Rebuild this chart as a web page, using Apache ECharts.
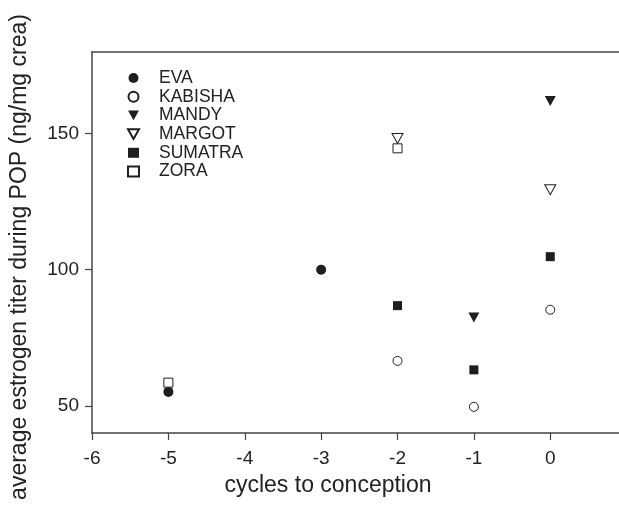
<!DOCTYPE html>
<html><head><meta charset="utf-8">
<script src="https://cdn.jsdelivr.net/npm/echarts@6/dist/echarts.min.js"></script>
<style>html,body{margin:0;padding:0;background:#fff}#c{width:619px;height:512px}</style>
</head><body><div id="c"></div>
<script>
const names = ['EVA','KABISHA','MANDY','MARGOT','SUMATRA','ZORA'];
const EVA = [[-5,55.1],[-3,100]];
const KABISHA = [[-2,66.5],[-1,49.6],[0,85.3]];
const MANDY = [[-1,82.4],[0,162]];
const MARGOT = [[-2,148.2],[0,129.4]];
const SUMATRA = [[-2,86.8],[-1,63.2],[0,104.8]];
const ZORA = [[-5,58.5],[-2,144.6]];
const xTicks = [-6,-5,-4,-3,-2,-1,0];
const yTicks = [50,100,150];

const tri = 'path://M0,0L10,0L5,9Z';
const dark = '#1e1e1e';
const defs = [
  {name:'EVA', data:EVA, symbol:'circle', size:10, fill:dark},
  {name:'KABISHA', data:KABISHA, symbol:'circle', size:9, fill:'#fff'},
  {name:'MANDY', data:MANDY, symbol:tri, size:[11,10], fill:dark},
  {name:'MARGOT', data:MARGOT, symbol:tri, size:[11,10], fill:'#fff'},
  {name:'SUMATRA', data:SUMATRA, symbol:'rect', size:9, fill:dark},
  {name:'ZORA', data:ZORA, symbol:'rect', size:9, fill:'#fff'}
];
const axisColor = '#444';
const font = 'Liberation Sans, Arial, sans-serif';
const chart = echarts.init(document.getElementById('c'), null, {renderer:'canvas'});
chart.setOption({
  animation:false,
  backgroundColor:'#fff',
  grid:{left:92, right:-1, top:52, bottom:79},
  legend:{
    orient:'vertical', left:127, top:69, padding:0,
    itemWidth:11, itemHeight:10, itemGap:0.7,
    textStyle:{fontSize:17.5, fontFamily:font, color:'#222', lineHeight:18, padding:[0,0,0,15]},
    data: defs.map(d=>({name:d.name, icon: d.symbol}))
  },
  xAxis:[{
    type:'value', min:-6, max:0.9, position:'bottom',
    axisLine:{onZero:false, lineStyle:{color:axisColor, width:1.5}},
    axisTick:{show:true, inside:false, length:7, customValues:xTicks, lineStyle:{color:axisColor, width:1.2}},
    axisLabel:{customValues:xTicks, fontSize:19, fontFamily:font, color:'#222', margin:16},
    splitLine:{show:false}
  },{
    type:'value', min:-6, max:0.9, position:'top',
    axisLine:{show:true, onZero:false, lineStyle:{color:axisColor, width:1.5}},
    axisTick:{show:false}, axisLabel:{show:false}, splitLine:{show:false}
  }],
  yAxis:{
    type:'value', min:40, max:180,
    axisLine:{show:true, onZero:false, lineStyle:{color:axisColor, width:1.5}},
    axisTick:{show:true, inside:false, length:7, customValues:yTicks, lineStyle:{color:axisColor, width:1.2}},
    axisLabel:{customValues:yTicks, fontSize:19, fontFamily:font, color:'#222', margin:13},
    splitLine:{show:false}
  },
  graphic:[
    {type:'text', x:328, y:486, style:{text:'cycles to conception', fontSize:23, fontFamily:font, fill:'#222', align:'center', verticalAlign:'middle'}},
    {type:'text', x:20, y:257, rotation:Math.PI/2, style:{text:'average estrogen titer during POP (ng/mg crea)', fontSize:23, fontFamily:font, fill:'#222', align:'center', verticalAlign:'middle'}}
  ],
  series: defs.map(d=>({
    name:d.name, type:'scatter', data:d.data, symbol:d.symbol, symbolSize:d.size,
    itemStyle:{color:d.fill, borderColor:dark, borderWidth: d.fill==='#fff'?1:0, opacity:1}
  }))
});
</script></body></html>
